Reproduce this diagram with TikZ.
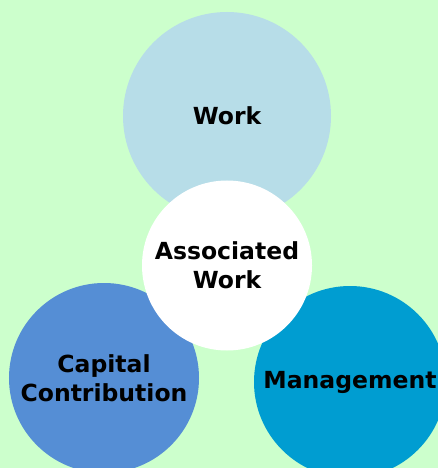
\documentclass[tikz,border=0pt]{standalone}
\usepackage{fontspec}
\setmainfont{DejaVu Sans}
\usepackage{tikz}
\usetikzlibrary{positioning}
\usepackage{xcolor}
\definecolor{bggreen}{RGB}{204,255,204}
\definecolor{worklightblue}{RGB}{183,221,232}
\definecolor{capitalblue}{RGB}{85,142,213}
\definecolor{managementblue}{RGB}{0,157,209}
\newcommand{\fontcircle}{\fontsize{23.6}{28.9}\selectfont\bfseries}
\tikzset{
    bubble/.style={circle, inner sep=0pt, align=center, font=\fontcircle},
    work-bubble/.style={bubble, fill=worklightblue, minimum size=208bp},
    capital-bubble/.style={bubble, fill=capitalblue, minimum size=190bp},
    management-bubble/.style={bubble, fill=managementblue, minimum size=192bp},
    center-bubble/.style={bubble, fill=white, minimum size=170bp},
}
\begin{document}
\begin{tikzpicture}[x=1bp, y=-1bp]
            \fill[bggreen] (0,0) rectangle (438,468);
            \useasboundingbox (0,0) rectangle (438,468);

            \path
                (0,0) node (origin) {}
                +(227,116) node[work-bubble] (work) {Work}
                +(104,378) node[capital-bubble] (capital) {Capital\\Contribution}
                +(350,382) node[management-bubble] (management) {Management}
                +(227,265.5) node[center-bubble] (associated-work) {Associated\\Work};
          \end{tikzpicture}
\end{document}
